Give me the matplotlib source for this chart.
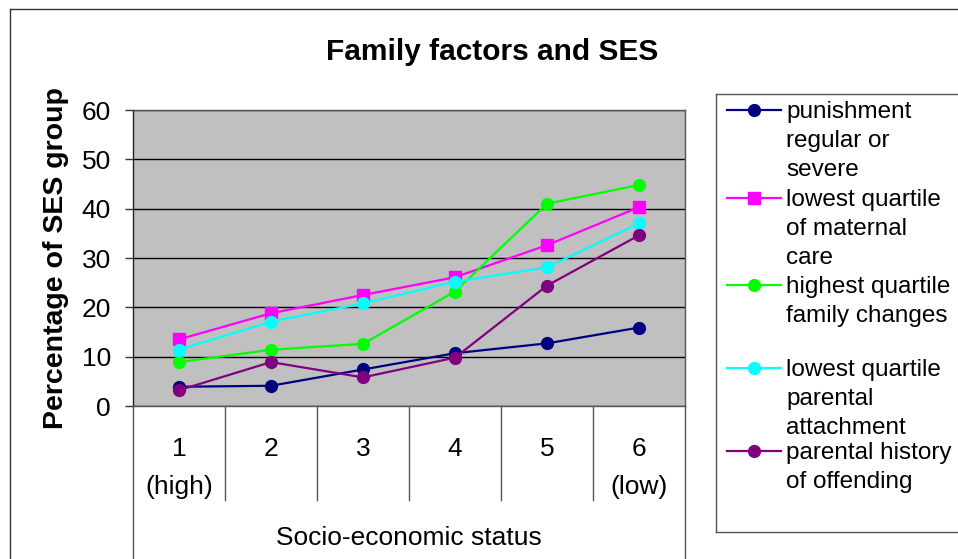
import matplotlib.pyplot as plt
from matplotlib.lines import Line2D

plt.rcParams['font.family'] = ['Liberation Sans', 'DejaVu Sans']

# SES groups (1 = high, 6 = low)
categories = ['1\n(high)', '2', '3', '4', '5', '6\n(low)']

punishment = [3.9, 4.1, 7.4, 10.7, 12.7, 15.9]
maternal_care = [13.5, 18.8, 22.5, 26.1, 32.6, 40.3]
family_changes = [8.9, 11.4, 12.6, 23.2, 41.0, 44.8]
attachment = [11.4, 17.1, 20.8, 25.2, 28.1, 37.0]
offending = [3.2, 8.9, 5.8, 9.8, 24.4, 34.6]

series_labels = ['punishment\nregular or\nsevere',
                 'lowest quartile\nof maternal\ncare',
                 'highest quartile\nfamily changes',
                 'lowest quartile\nparental\nattachment',
                 'parental history\nof offending']
series_colors = ['#000080', '#FF00FF', '#00FF00', '#00FFFF', '#800080']
series_markers = ['o', 's', 'o', 'o', 'o']

W, H = 958, 559
fig = plt.figure(figsize=(W / 100, H / 100), dpi=100)

# plot area in pixels: left 133, right 685, top 110, bottom 406
left, right, top, bottom = 133, 685, 110, 406
ax = fig.add_axes([left / W, 1 - bottom / H, (right - left) / W, (bottom - top) / H])
ax.set_facecolor('#C0C0C0')

x = range(len(categories))
all_series = [punishment, maternal_care, family_changes, attachment, offending]
for vals, col, mk in zip(all_series, series_colors, series_markers):
    ax.plot(x, vals, color=col, marker=mk, markersize=8.5, linewidth=1.6, zorder=3)

ax.set_xlim(-0.5, len(categories) - 0.5)
ax.set_ylim(0, 60)
ax.set_yticks(range(0, 61, 10))
ax.yaxis.grid(True, color='black', linewidth=1, zorder=1)
ax.set_axisbelow(True)
ax.tick_params(axis='y', labelsize=19, length=6, width=1, pad=10, color='#333333')
ax.set_xticks(list(x))
ax.set_xticklabels(categories)
ax.tick_params(axis='x', labelsize=19, length=0, pad=22)
for lbl in ax.get_xticklabels():
    lbl.set_linespacing(1.75)
for s in ax.spines.values():
    s.set_color('#555555')
    s.set_linewidth(1)
ax.spines['left'].set_color('#222222')

ax.set_ylabel('Percentage of SES group', fontsize=20.5, fontweight='bold', labelpad=9)

# category table dividers below the axis
trans = ax.get_xaxis_transform()
ah = bottom - top
inner_end = -(500 - bottom) / ah
outer_end = -(559 - bottom) / ah
for xb in [i + 0.5 for i in range(len(categories) - 1)]:
    ax.plot([xb, xb], [0, inner_end], transform=trans, color='#555555', lw=1, clip_on=False)
for xb in [-0.5, len(categories) - 0.5]:
    ax.plot([xb, xb], [0, outer_end], transform=trans, color='#555555', lw=1, clip_on=False)
ax.text(0.5, -(538 - bottom) / ah, 'Socio-economic status', transform=ax.transAxes,
        ha='center', va='center', fontsize=19)

fig.text(492 / W, 1 - 52 / H, 'Family factors and SES', ha='center', va='center',
         fontsize=21.5, fontweight='bold')


def px(xp, yp):
    return xp / W, 1 - yp / H


# outer chart border (left and top visible)
fig.add_artist(Line2D([10 / W, 10 / W], [0, 1 - 9 / H], transform=fig.transFigure, color='#333333', lw=1))
fig.add_artist(Line2D([10 / W, 1], [1 - 9 / H, 1 - 9 / H], transform=fig.transFigure, color='#333333', lw=1))

# legend box
fig.add_artist(Line2D([716 / W, 716 / W], [1 - 532 / H, 1 - 94 / H], transform=fig.transFigure, color='#555555', lw=1))
fig.add_artist(Line2D([716 / W, 1], [1 - 94 / H, 1 - 94 / H], transform=fig.transFigure, color='#555555', lw=1))
fig.add_artist(Line2D([716 / W, 1], [1 - 532 / H, 1 - 532 / H], transform=fig.transFigure, color='#555555', lw=1))

entry_y = [110, 198, 285, 368, 451]
for ey, lab, col, mk in zip(entry_y, series_labels, series_colors, series_markers):
    fx0, fy = px(727, ey)
    fx1, _ = px(781, ey)
    fig.add_artist(Line2D([fx0, fx1], [fy, fy], transform=fig.transFigure, color=col, lw=1.6))
    fig.add_artist(Line2D([(fx0 + fx1) / 2], [fy], transform=fig.transFigure, color=col,
                          marker=mk, markersize=8.5, linestyle='none'))
    tx, ty = px(786, ey - 9)
    fig.text(tx, ty, lab, ha='left', va='top', fontsize=17.5, linespacing=1.42)

fig.savefig('out.png', dpi=100)
